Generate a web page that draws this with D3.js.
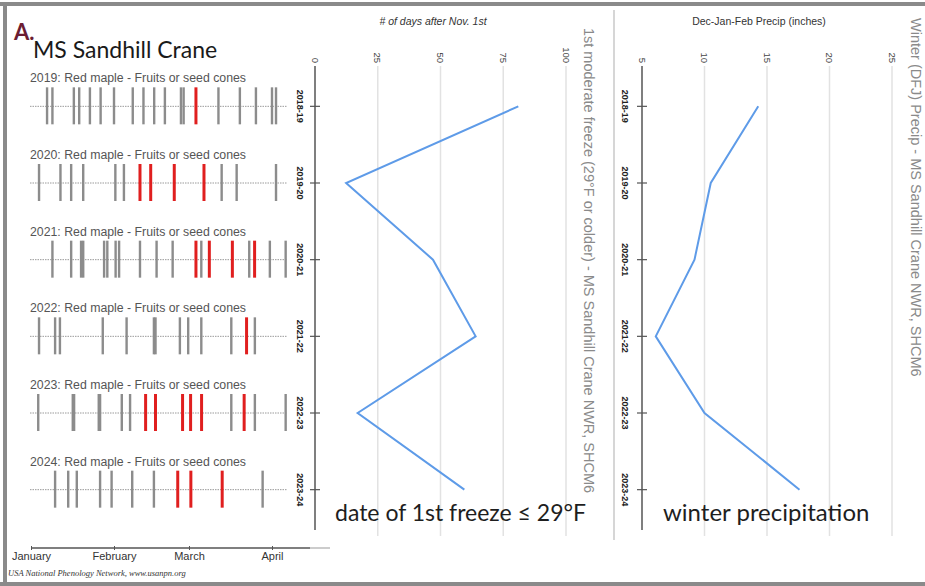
<!DOCTYPE html>
<html>
<head>
<meta charset="utf-8">
<script src="https://cdn.jsdelivr.net/npm/d3@7"></script>
<style>
  html, body { margin: 0; padding: 0; background: #fff; }
  svg { display: block; }
</style>
</head>
<body>
<svg id="chart" width="925" height="586"></svg>
<script>
// Winter seasons shared by every panel (one row per season)
const seasons = ["2018-19", "2019-20", "2020-21", "2021-22", "2022-23", "2023-24"];
const phenoYears = ["2019", "2020", "2021", "2022", "2023", "2024"];

// Red maple "Fruits or seed cones" observations, days after Jan 1
const noDays = [
  [6, 8, 16, 18, 22, 26, 31, 38, 42, 46, 50, 56, 57, 70, 78, 84, 90, 91.5],
  [3, 11, 15, 19.5, 31.5, 34.7, 71.2, 76.8, 91.5],
  [8, 15, 18.7, 19.5, 27.3, 28.5, 31.6, 32.9, 40.7, 46.9, 52.9, 63.6, 81.5, 89.2, 95.1],
  [3, 9, 10.8, 26.8, 35.7, 45.9, 46.5, 55.6, 58.7, 63.6, 74.8, 83.6],
  [2.7, 15.6, 16.1, 25.3, 25.8, 33.9, 37, 74.8, 83.6, 95.1],
  [9, 13.9, 17.1, 25.8, 30.1, 37.8, 45.9, 86.5]
];
const yesDays = [
  [61.6],
  [40.7, 44.7, 53.5, 64.6],
  [61.6, 66.6, 75.2, 83.5],
  [80.5],
  [42.8, 46.5, 56.6, 59.6, 63.7, 79.6],
  [54.8, 59.7, 71.4]
];
const monthNames = ["January", "February", "March", "April"];
const monthStarts = [0, 31, 59, 90];

// First moderate freeze (29°F or colder), # of days after Nov. 1st
const freezeDays = [81, 12.4, 47, 64, 17, 59.5];
const freezeTicks = [0, 25, 50, 75, 100];

// Dec-Jan-Feb precipitation, inches
const precipInches = [14.3, 10.5, 9.2, 6.1, 10, 17.6];
const precipTicks = [5, 10, 15, 20, 25];

const svg = d3.select("#chart");
const SANS = "Arial, 'Liberation Sans', sans-serif";
const HUMAN = "Lato, 'Open Sans', sans-serif";
const BLUE = "#5e9be8";

// Shared vertical scale for seasons
const y = d3.scalePoint().domain(seasons).range([68, 528]).padding(0.5);

// ---------- frame ----------
svg.append("line").attr("x1", 0).attr("x2", 925).attr("y1", 4).attr("y2", 4)
  .attr("stroke", "#8a8a8a").attr("stroke-width", 4);
svg.append("line").attr("x1", 5).attr("x2", 5).attr("y1", 2).attr("y2", 586)
  .attr("stroke", "#8a8a8a").attr("stroke-width", 4);
svg.append("line").attr("x1", 0).attr("x2", 925).attr("y1", 584).attr("y2", 584)
  .attr("stroke", "#8a8a8a").attr("stroke-width", 4);

svg.append("text").attr("x", 14).attr("y", 40).text("A.")
  .attr("font-family", HUMAN).attr("font-weight", "bold").attr("font-size", 22)
  .attr("fill", "#6c1d33");
svg.append("text").attr("x", 33).attr("y", 58).text("MS Sandhill Crane")
  .attr("font-family", HUMAN).attr("font-size", 23).attr("fill", "#1a1a1a");

// ---------- phenology panel ----------
const xDay = d3.scaleLinear().domain([0, 90]).range([31, 272]);
const pheno = svg.append("g");

phenoYears.forEach((yr, i) => {
  const cy = y(seasons[i]);
  const row = pheno.append("g");
  row.append("text").attr("x", 30).attr("y", cy - 24)
    .text(`${yr}: Red maple - Fruits or seed cones`)
    .attr("font-family", SANS).attr("font-size", 12.3).attr("fill", "#555");
  row.append("line").attr("x1", 30).attr("x2", 287).attr("y1", cy).attr("y2", cy)
    .attr("stroke", "#9a9a9a").attr("stroke-width", 1).attr("stroke-dasharray", "1.5,1");
  row.selectAll("line.no").data(noDays[i]).join("line").attr("class", "no")
    .attr("x1", d => xDay(d)).attr("x2", d => xDay(d))
    .attr("y1", cy - 19).attr("y2", cy + 18)
    .attr("stroke", "#8c8c8c").attr("stroke-width", 2.4);
  row.selectAll("line.yes").data(yesDays[i]).join("line").attr("class", "yes")
    .attr("x1", d => xDay(d)).attr("x2", d => xDay(d))
    .attr("y1", cy - 19).attr("y2", cy + 18)
    .attr("stroke", "#e01f1f").attr("stroke-width", 3);
});

const monthAxis = d3.axisBottom(xDay).tickValues(monthStarts)
  .tickFormat((d, i) => monthNames[i]).tickSize(3).tickSizeOuter(0);
const gm = svg.append("g").attr("transform", "translate(0,548)").call(monthAxis);
gm.select(".domain").attr("stroke", "#555").attr("stroke-width", 1.5)
  .attr("d", "M31,0H310");
gm.selectAll(".tick line").attr("stroke", "#555").attr("y1", -2).attr("y2", 2);
gm.selectAll(".tick text").attr("font-family", SANS).attr("font-size", 11)
  .attr("fill", "#333").attr("dy", "0.55em");
svg.append("line").attr("x1", 310).attr("x2", 330).attr("y1", 548).attr("y2", 548)
  .attr("stroke", "#bbb").attr("stroke-width", 1.5);

svg.append("text").attr("x", 8).attr("y", 576)
  .text("USA National Phenology Network, www.usanpn.org")
  .attr("font-family", "'Liberation Serif', 'DejaVu Serif', serif")
  .attr("font-style", "italic").attr("font-size", 8.5).attr("fill", "#333");

// ---------- rotated line panel ----------
function linePanel(opts) {
  const x = d3.scaleLinear().domain(opts.domain).range(opts.range);
  const g = svg.append("g");

  g.append("text").attr("x", opts.titleX).attr("y", 25)
    .text(opts.title).attr("text-anchor", "middle")
    .attr("font-family", SANS).attr("font-size", opts.titleSize).attr("fill", "#333")
    .attr("font-style", opts.italic ? "italic" : "normal");

  // grid
  g.selectAll("line.grid").data(opts.ticks.slice(1)).join("line").attr("class", "grid")
    .attr("x1", d => x(d)).attr("x2", d => x(d)).attr("y1", 66).attr("y2", 536)
    .attr("stroke", "#e2e2e2").attr("stroke-width", 1.5);

  // value tick labels, rotated
  g.selectAll("text.vt").data(opts.ticks).join("text").attr("class", "vt")
    .attr("transform", d => `translate(${x(d)},63) rotate(90)`)
    .attr("text-anchor", "end").attr("dy", "0.35em")
    .text(d => d).attr("font-family", SANS).attr("font-size", 9.5).attr("fill", "#444");

  // season axis
  const x0 = opts.range[0];
  g.append("line").attr("x1", x0).attr("x2", x0).attr("y1", 66).attr("y2", 530)
    .attr("stroke", "#555").attr("stroke-width", 1.5);
  g.selectAll("line.st").data(seasons).join("line").attr("class", "st")
    .attr("x1", x0 - 5).attr("x2", x0 + 5).attr("y1", d => y(d)).attr("y2", d => y(d))
    .attr("stroke", "#555").attr("stroke-width", 1.2);
  g.selectAll("text.sl").data(seasons).join("text").attr("class", "sl")
    .attr("transform", d => `translate(${x0 - opts.labelOffset},${y(d)}) rotate(90)`)
    .attr("text-anchor", "middle").attr("dy", "0.35em")
    .text(d => d).attr("font-family", SANS).attr("font-weight", "bold")
    .attr("font-size", 9).attr("fill", "#222");

  // series
  const line = d3.line().x(d => x(d[1])).y(d => y(d[0]));
  g.append("path").datum(seasons.map((s, i) => [s, opts.values[i]]))
    .attr("d", line).attr("fill", "none").attr("stroke", BLUE).attr("stroke-width", 2);

  // side title
  g.append("text").attr("transform", `translate(${opts.sideX},${opts.sideY}) rotate(90)`)
    .text(opts.side).attr("dy", "0.35em")
    .attr("font-family", SANS).attr("font-size", 14.5).attr("fill", "#8a8a8a");

  // caption
  g.append("text").attr("x", opts.capX).attr("y", 521).text(opts.caption)
    .attr("font-family", HUMAN).attr("font-size", opts.capSize).attr("fill", "#1e1e1e");
}

linePanel({
  domain: [0, 100], range: [315, 566], ticks: freezeTicks, values: freezeDays,
  title: "# of days after Nov. 1st", italic: true, titleX: 433, titleSize: 10.5,
  labelOffset: 15,
  side: "1st moderate freeze (29°F or colder) - MS Sandhill Crane NWR, SHCM6",
  sideX: 589, sideY: 28, caption: "date of 1st freeze ≤ 29°F", capX: 335, capSize: 23
});

// divider between the two line panels
svg.append("line").attr("x1", 614).attr("x2", 614).attr("y1", 10).attr("y2", 540)
  .attr("stroke", "#d6d6d6").attr("stroke-width", 2);

linePanel({
  domain: [5, 25], range: [642, 892], ticks: precipTicks, values: precipInches,
  title: "Dec-Jan-Feb Precip (inches)", italic: false, titleX: 759, titleSize: 10.5,
  labelOffset: 17,
  side: "Winter (DFJ) Precip - MS Sandhill Crane NWR, SHCM6",
  sideX: 916, sideY: 18, caption: "winter precipitation", capX: 663, capSize: 24
});
</script>
</body>
</html>
